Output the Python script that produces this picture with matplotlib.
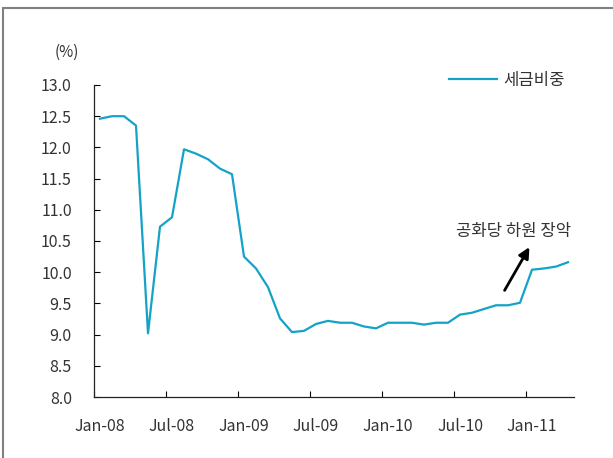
import numpy as np
import matplotlib.pyplot as plt
from matplotlib.patches import Rectangle

plt.rcParams['font.family'] = ['Noto Sans CJK KR', 'DejaVu Sans']

# monthly tax share, Jan-08 .. Apr-11
months = ["Jan-08", "Feb-08", "Mar-08", "Apr-08", "May-08", "Jun-08",
          "Jul-08", "Aug-08", "Sep-08", "Oct-08", "Nov-08", "Dec-08",
          "Jan-09", "Feb-09", "Mar-09", "Apr-09", "May-09", "Jun-09",
          "Jul-09", "Aug-09", "Sep-09", "Oct-09", "Nov-09", "Dec-09",
          "Jan-10", "Feb-10", "Mar-10", "Apr-10", "May-10", "Jun-10",
          "Jul-10", "Aug-10", "Sep-10", "Oct-10", "Nov-10", "Dec-10",
          "Jan-11", "Feb-11", "Mar-11", "Apr-11"]
tax_share = [12.46, 12.50, 12.50, 12.35, 9.02, 10.73,
             10.88, 11.97, 11.90, 11.81, 11.66, 11.57,
             10.25, 10.06, 9.76, 9.26, 9.04, 9.06,
             9.17, 9.22, 9.19, 9.19, 9.13, 9.10,
             9.19, 9.19, 9.19, 9.16, 9.19, 9.19,
             9.32, 9.35, 9.41, 9.47, 9.47, 9.51,
             10.04, 10.06, 10.09, 10.16]
series_name = "세금비중"
note = "공화당 하원 장악"

x = np.arange(len(months))
txt = "#333333"

fig = plt.figure(figsize=(6.13, 4.58), dpi=100)
ax = fig.add_axes([94/613, 61/458, 480/613, 312/458])

ax.plot(x, tax_share, color="#14A3C7", lw=1.6, label=series_name)

ax.set_xlim(-0.5, len(months) - 0.5)
ax.set_ylim(8.0, 13.0)

# tick marks between categories every 6 months, labels on the first month
ax.set_xticks(np.arange(-0.5, len(months), 6))
ax.set_xticklabels([])
ax.set_xticks(x[::6], minor=True)
ax.set_xticklabels([months[i] for i in x[::6]], minor=True)
ax.tick_params(axis="x", which="major", direction="in", length=4, width=0.8)
ax.tick_params(axis="x", which="minor", length=0, pad=15, labelsize=11.5, labelcolor=txt)

yt = np.arange(8.0, 13.01, 0.5)
ax.set_yticks(yt)
ax.set_yticklabels(["%.1f" % v for v in yt])
ax.tick_params(axis="y", which="major", direction="in", length=4, width=0.8,
               labelsize=11.5, labelcolor=txt, pad=16)

for s in ["top", "right"]:
    ax.spines[s].set_visible(False)
for s in ["left", "bottom"]:
    ax.spines[s].set_color("#222222")
    ax.spines[s].set_linewidth(0.9)

fig.text(67/613, 1 - 52/458, "(%)", ha="center", va="center", fontsize=11, color=txt)

ax.legend(loc="upper right", bbox_to_anchor=(576/613, 1 - 60/458), bbox_transform=fig.transFigure,
          frameon=False, fontsize=12, handlelength=2.9, handletextpad=0.35,
          labelcolor=txt, borderpad=0.2)

ax.annotate("", xy=(35.9, 10.44), xytext=(33.6, 9.67),
            arrowprops=dict(arrowstyle="-|>", color="black", lw=2, mutation_scale=16))
ax.text(34.5, 10.66, note, ha="center", va="center", fontsize=12, color=txt)

fig.patches.append(Rectangle((3/613, -0.02), 1.1, 1 - 8/458 + 0.02, transform=fig.transFigure,
                             fill=False, edgecolor="#808080", lw=1.5))

fig.savefig("out.png", dpi=100)
